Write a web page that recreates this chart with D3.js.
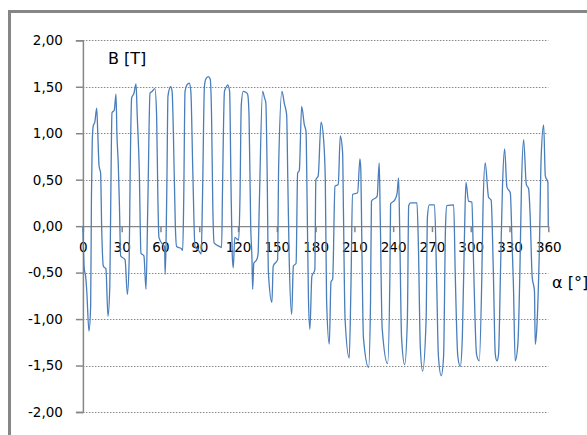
<!DOCTYPE html>
<html>
<head>
<meta charset="utf-8">
<script src="https://cdn.jsdelivr.net/npm/d3@7"></script>
<style>
  html, body { margin: 0; padding: 0; background: #fff; }
  svg { display: block; }
</style>
</head>
<body>
<svg id="chart" width="587" height="435"></svg>
<script>
// ---- data ----
const angles = [
  0, 1.0, 2.2, 3.0, 4.7, 6.0, 6.6, 7.2, 8.0, 9.2, 10.7, 11.5, 12.5, 13.7, 14.5, 15.8, 17.8, 19.4,
  20.8, 21.5, 22.5, 24.3, 25.6, 26.3, 27.4, 28.3, 29.2, 32.6, 34.4, 35.8, 36.5, 37.7, 39.5, 41.1,
  42.0, 43.6, 44.9, 47.2, 48.8, 50.3, 51.9, 53.5, 55.7, 57.0, 58.0, 58.8, 62.0, 63.2, 63.6, 64.3,
  65.0, 65.8, 67.9, 69.0, 70.0, 71.5, 72.5, 76.0, 77.2, 78.0, 79.0, 80.5, 82.3, 83.5, 85.0, 86.7,
  89.5, 91.5, 92.5, 94.0, 95.0, 97.0, 98.5, 99.5, 100.5, 101.5, 106.0, 107.3, 108.0, 109.5, 111.0,
  112.0, 113.5, 114.5, 115.5, 116.3, 117.5, 120.5, 121.5, 122.5, 124.0, 126.0, 127.4, 128.5, 129.8,
  130.8, 131.3, 132.2, 134.5, 135.5, 136.4, 139.0, 140.5, 141.5, 142.5, 143.5, 146.2, 147.2, 150.6,
  151.4, 154.0, 155.8, 157.6, 158.5, 159.5, 161.5, 162.8, 164.9, 166.1, 167.4, 169.2, 171.3, 172.6,
  173.4, 174.5, 175.6, 177.1, 179.4, 180.2, 182.0, 184.2, 186.2, 187.5, 188.5, 190.6, 191.9, 193.2,
  195.0, 197.5, 199.1, 200.9, 201.5, 202.8, 206.0, 207.3, 208.6, 212.5, 214.3, 215.0, 215.6, 217.0,
  221.0, 222.5, 223.2, 227.6, 229.2, 230.0, 231.5, 235.7, 237.5, 238.0, 241.1, 243.0, 244.2, 245.0,
  246.5, 248.9, 251.0, 252.0, 253.5, 258.4, 259.5, 261.0, 262.8, 265.5, 266.5, 267.9, 272.0, 273.5,
  275.0, 277.2, 279.0, 280.5, 281.5, 286.8, 288.0, 290.0, 291.9, 293.5, 295.3, 296.3, 298.3, 300.9,
  302.0, 304.5, 306.6, 308.5, 309.5, 311.2, 313.8, 315.8, 317.5, 319.0, 320.3, 321.5, 323.0, 324.5,
  326.2, 328.0, 330.6, 332.0, 333.0, 334.4, 336.5, 338.0, 339.2, 340.9, 343.0, 344.8, 346.0, 347.5,
  349.3, 349.9, 351.1, 353.0, 354.5, 356.4, 357.7, 359.7, 360
];
const bValues = [
  0, -0.45, -0.55, -0.7, -1.13, -0.86, 0.3, 0.9, 1.08, 1.12, 1.27, 1.0, 0.65, 0.57, 0.0, -0.43, -0.46, -0.97,
  -0.65, 0.2, 1.22, 1.25, 1.42, 1.0, 0.65, 0.2, -0.32, -0.36, -0.735, -0.36, 0.5, 1.38, 1.43, 1.53,
  1.2, 0.61, -0.29, -0.32, -0.68, 0.3, 1.43, 1.45, 1.48, 1.2, 0.3, -0.12, -0.2, -0.22, -0.52, -0.2,
  0.5, 1.4, 1.5, 1.45, 1.0, 0.0, -0.22, -0.24, -0.26, 0.3, 1.45, 1.52, 1.54, 1.45, 0.6, -0.22,
  -0.26, -0.3, 0.3, 1.5, 1.58, 1.61, 1.58, 1.2, 0.2, -0.18, -0.22, -0.23, 0.4, 1.45, 1.5,
  1.52, 1.45, 0.5, -0.3, -0.45, -0.12, -0.15, 0.3, 1.3, 1.45, 1.44, 1.42, 1.2, 0.0,
  -0.36, -0.68, -0.4, -0.36, -0.3, 0.2, 1.45, 1.38, 1.33, 0.6, -0.5, -0.82, -0.43, -0.36,
  0.63, 1.45, 1.32, 1.2, 0.5, -0.3, -0.95, -0.43, -0.4, 0.57, 0.6, 1.29, 1.09, 1.02,
  0.3, -0.8, -1.11, -0.54, -0.47, 0.5, 0.54, 1.12, 0.93, 0.5, -0.8, -1.27, -0.6, -0.57,
  0.43, 0.45, 0.97, 0.79, 0.2, -1.0, -1.42, -0.68, 0.34, 0.36, 0.725, 0.6, 0.0, -1.2,
  -1.52, -0.8, 0.27, 0.32, 0.68, 0.1, -1.1, -1.48, -0.5, 0.24, 0.28, 0.35, 0.52, 0.0,
  -1.2, -1.49, -1.0, 0.22, 0.25, 0.25, -0.2, -1.3, -1.56, -1.0, 0.1, 0.23, 0.23, -0.5,
  -1.4, -1.61, -1.4, 0.0, 0.22, 0.23, -0.5, -1.4, -1.51, -1.2, 0.0, 0.47, 0.27, 0.26,
  -0.3, -1.38, -1.45, -0.6, 0.2, 0.68, 0.31, 0.28, -0.5, -1.38, -1.45, -1.38, -0.5, 0.4,
  0.83, 0.42, 0.36, -0.2, -0.62, -1.45, -1.26, -0.5, 0.4, 0.93, 0.45, 0.4, 0.1, -0.54,
  -0.7, -1.27, -1.1, -0.3, 0.75, 1.09, 0.54, 0.47, 0
];
const yTicks = [-2, -1.5, -1, -0.5, 0, 0.5, 1, 1.5, 2];
const xTicks = [0, 30, 60, 90, 120, 150, 180, 210, 240, 270, 300, 330, 360];
const yTitle = "B [T]";
const xTitle = "α [°]";

// ---- drawing ----
const svg = d3.select("#chart");
const gray = "#868686";
const x = d3.scaleLinear().domain([0, 360]).range([82.9, 548.3]);
const y = d3.scaleLinear().domain([-2, 2]).range([412, 40.3]);
const loc = d3.formatLocale({decimal: ",", thousands: ".", grouping: [3], currency: ["", ""], minus: "-"});
const fmt = loc.format(".2f");

// outer frame (top & left edges visible)
svg.append("line").attr("x1", 9.5).attr("x2", 600).attr("y1", 11.5).attr("y2", 11.5)
  .attr("stroke", gray).attr("stroke-width", 3);
svg.append("line").attr("x1", 9.5).attr("x2", 9.5).attr("y1", 10).attr("y2", 440)
  .attr("stroke", gray).attr("stroke-width", 3);

// gridlines
svg.append("g").selectAll("line").data(yTicks.filter(d => d !== 0)).join("line")
  .attr("x1", x(0)).attr("x2", x(360))
  .attr("y1", d => Math.round(y(d)) + 0.5).attr("y2", d => Math.round(y(d)) + 0.5)
  .attr("stroke", gray).attr("stroke-width", 1).attr("stroke-dasharray", "1.5,1.5");

// y axis
const yAxis = d3.axisLeft(y).tickValues(yTicks).tickFormat(fmt).tickSize(7).tickPadding(13);
const gy = svg.append("g").attr("transform", `translate(${x(0)},0)`).call(yAxis);
gy.select(".domain").attr("stroke", gray).attr("stroke-width", 1.5);
gy.selectAll(".tick line").attr("stroke", gray).attr("stroke-width", 1.5);
gy.selectAll(".tick text").attr("font-family", "DejaVu Sans").attr("font-size", 13.5).attr("fill", "#000");

// x axis at y = 0
const xAxis = d3.axisBottom(x).tickValues(xTicks).tickFormat(d3.format("d")).tickSize(6).tickSizeOuter(0).tickPadding(10);
const gx = svg.append("g").attr("transform", `translate(0,${y(0)})`).call(xAxis);
gx.select(".domain").attr("stroke", gray).attr("stroke-width", 1.2);
gx.selectAll(".tick line").attr("stroke", gray).attr("stroke-width", 1.5);
gx.selectAll(".tick text").attr("font-family", "DejaVu Sans").attr("font-size", 13.5).attr("fill", "#000");

// series
const pts = angles.map((a, i) => [a, bValues[i]]);
const line = d3.line().x(d => x(d[0])).y(d => y(d[1])).curve(d3.curveMonotoneX);
svg.append("path").datum(pts).attr("d", line)
  .attr("fill", "none").attr("stroke", "#4A7EBB").attr("stroke-width", 1.3)
  .attr("stroke-linejoin", "round");

// titles
svg.append("text").attr("x", 108).attr("y", 63.5).text(yTitle)
  .attr("font-family", "DejaVu Sans").attr("font-size", 16).attr("fill", "#000");
svg.append("text").attr("x", 552).attr("y", 288).text(xTitle)
  .attr("font-family", "DejaVu Sans").attr("font-size", 16).attr("fill", "#000");
</script>
</body>
</html>
